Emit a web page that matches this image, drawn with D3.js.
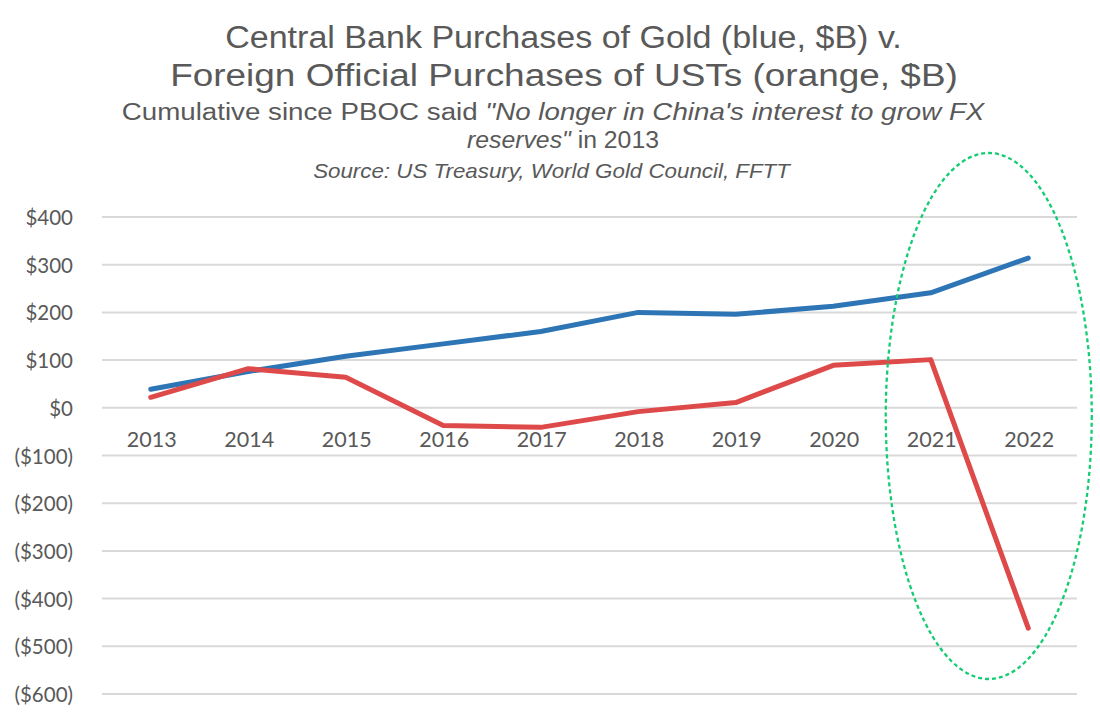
<!DOCTYPE html>
<html><head><meta charset="utf-8">
<script src="https://cdn.jsdelivr.net/npm/d3@7"></script>
<style>body{margin:0;background:#fff}svg{display:block}</style>
</head><body>
<svg id="c" width="1100" height="713"></svg>
<script>
const years = ["2013","2014","2015","2016","2017","2018","2019","2020","2021","2022"];
const goldCum = [39, 76, 108, 134, 160, 200, 196, 213, 241, 314];
const ustCum = [22, 82, 64, -37, -41, -8, 11, 89, 101, -462];
const yTicks = [400, 300, 200, 100, 0, -100, -200, -300, -400, -500, -600];

const svg = d3.select("#c");
const m = {left: 102, right: 1077, top: 217, bottom: 694};

const x = d3.scaleBand().domain(years).range([m.left, m.right]);
const y = d3.scaleLinear().domain([-600, 400]).range([m.bottom, m.top]);

// titles
const tc = "#595959";
const t = svg.append("g").attr("fill", tc).attr("font-family", "Liberation Sans, Arial, sans-serif").attr("text-anchor", "middle");
function fit(sel, cx, target) {
  const w = sel.node().getComputedTextLength();
  const k = target / w;
  sel.attr("x", 0).attr("transform", `translate(${cx},0) scale(${k},1)`);
}
const l1 = t.append("text").attr("y", 48.5).attr("font-size", 31).text("Central Bank Purchases of Gold (blue, $B) v.");
fit(l1, 563.5, 677);
const l2 = t.append("text").attr("y", 86.5).attr("font-size", 31).text("Foreign Official Purchases of USTs (orange, $B)");
fit(l2, 564, 788);
const s1 = t.append("text").attr("y", 120).attr("font-size", 24.5);
s1.append("tspan").text("Cumulative since PBOC said ");
s1.append("tspan").attr("font-style", "italic").text("\"No longer in China's interest to grow FX");
fit(s1, 553, 863);
const s2 = t.append("text").attr("y", 148).attr("font-size", 24.5);
s2.append("tspan").attr("font-style", "italic").text("reserves\"");
s2.append("tspan").text(" in 2013");
fit(s2, 563, 192);
const src = t.append("text").attr("y", 178).attr("font-size", 20).attr("font-style", "italic").text("Source: US Treasury, World Gold Council, FFTT");
fit(src, 551.5, 477);

// gridlines
svg.append("g").selectAll("line").data(yTicks).join("line")
  .attr("x1", m.left).attr("x2", m.right)
  .attr("y1", d => y(d)).attr("y2", d => y(d))
  .attr("stroke", "#d9d9d9").attr("stroke-width", 2);

// y axis labels
const fmt = d => d < 0 ? "($" + Math.abs(d) + ")" : "$" + d;
const yAxis = d3.axisLeft(y).tickValues(yTicks).tickFormat(fmt).tickSize(0).tickPadding(0);
const ya = svg.append("g").attr("transform", "translate(73,1)").call(yAxis);
ya.select(".domain").remove();
ya.selectAll("text").attr("fill", tc).attr("font-size", 20.5).attr("font-family", "Lato, Open Sans, sans-serif");

// x axis labels at zero
const xAxis = d3.axisBottom(x).tickSize(0).tickPadding(0);
const xa = svg.append("g").attr("transform", `translate(1,${y(0) + 24})`).call(xAxis);
xa.select(".domain").remove();
xa.selectAll("text").attr("fill", tc).attr("font-size", 21.5).attr("font-family", "Lato, Open Sans, sans-serif");

const line = d3.line().x((d, i) => x(years[i]) + x.bandwidth() / 2).y(d => y(d));
svg.append("path").datum(goldCum).attr("d", line).attr("fill", "none")
  .attr("stroke", "#2e75b6").attr("stroke-width", 5).attr("stroke-linejoin", "round").attr("stroke-linecap", "round");
svg.append("path").datum(ustCum).attr("d", line).attr("fill", "none")
  .attr("stroke", "#de4a4a").attr("stroke-width", 5).attr("stroke-linejoin", "round").attr("stroke-linecap", "round");

// highlight ellipse around 2021-2022
const cx = x("2022") + x.bandwidth() / 2 - 39.5;
svg.append("ellipse").attr("cx", cx).attr("cy", 416).attr("rx", 103).attr("ry", 263)
  .attr("fill", "none").attr("stroke", "#14cc72").attr("stroke-width", 2.3).attr("stroke-dasharray", "4,3");
</script>
</body></html>
